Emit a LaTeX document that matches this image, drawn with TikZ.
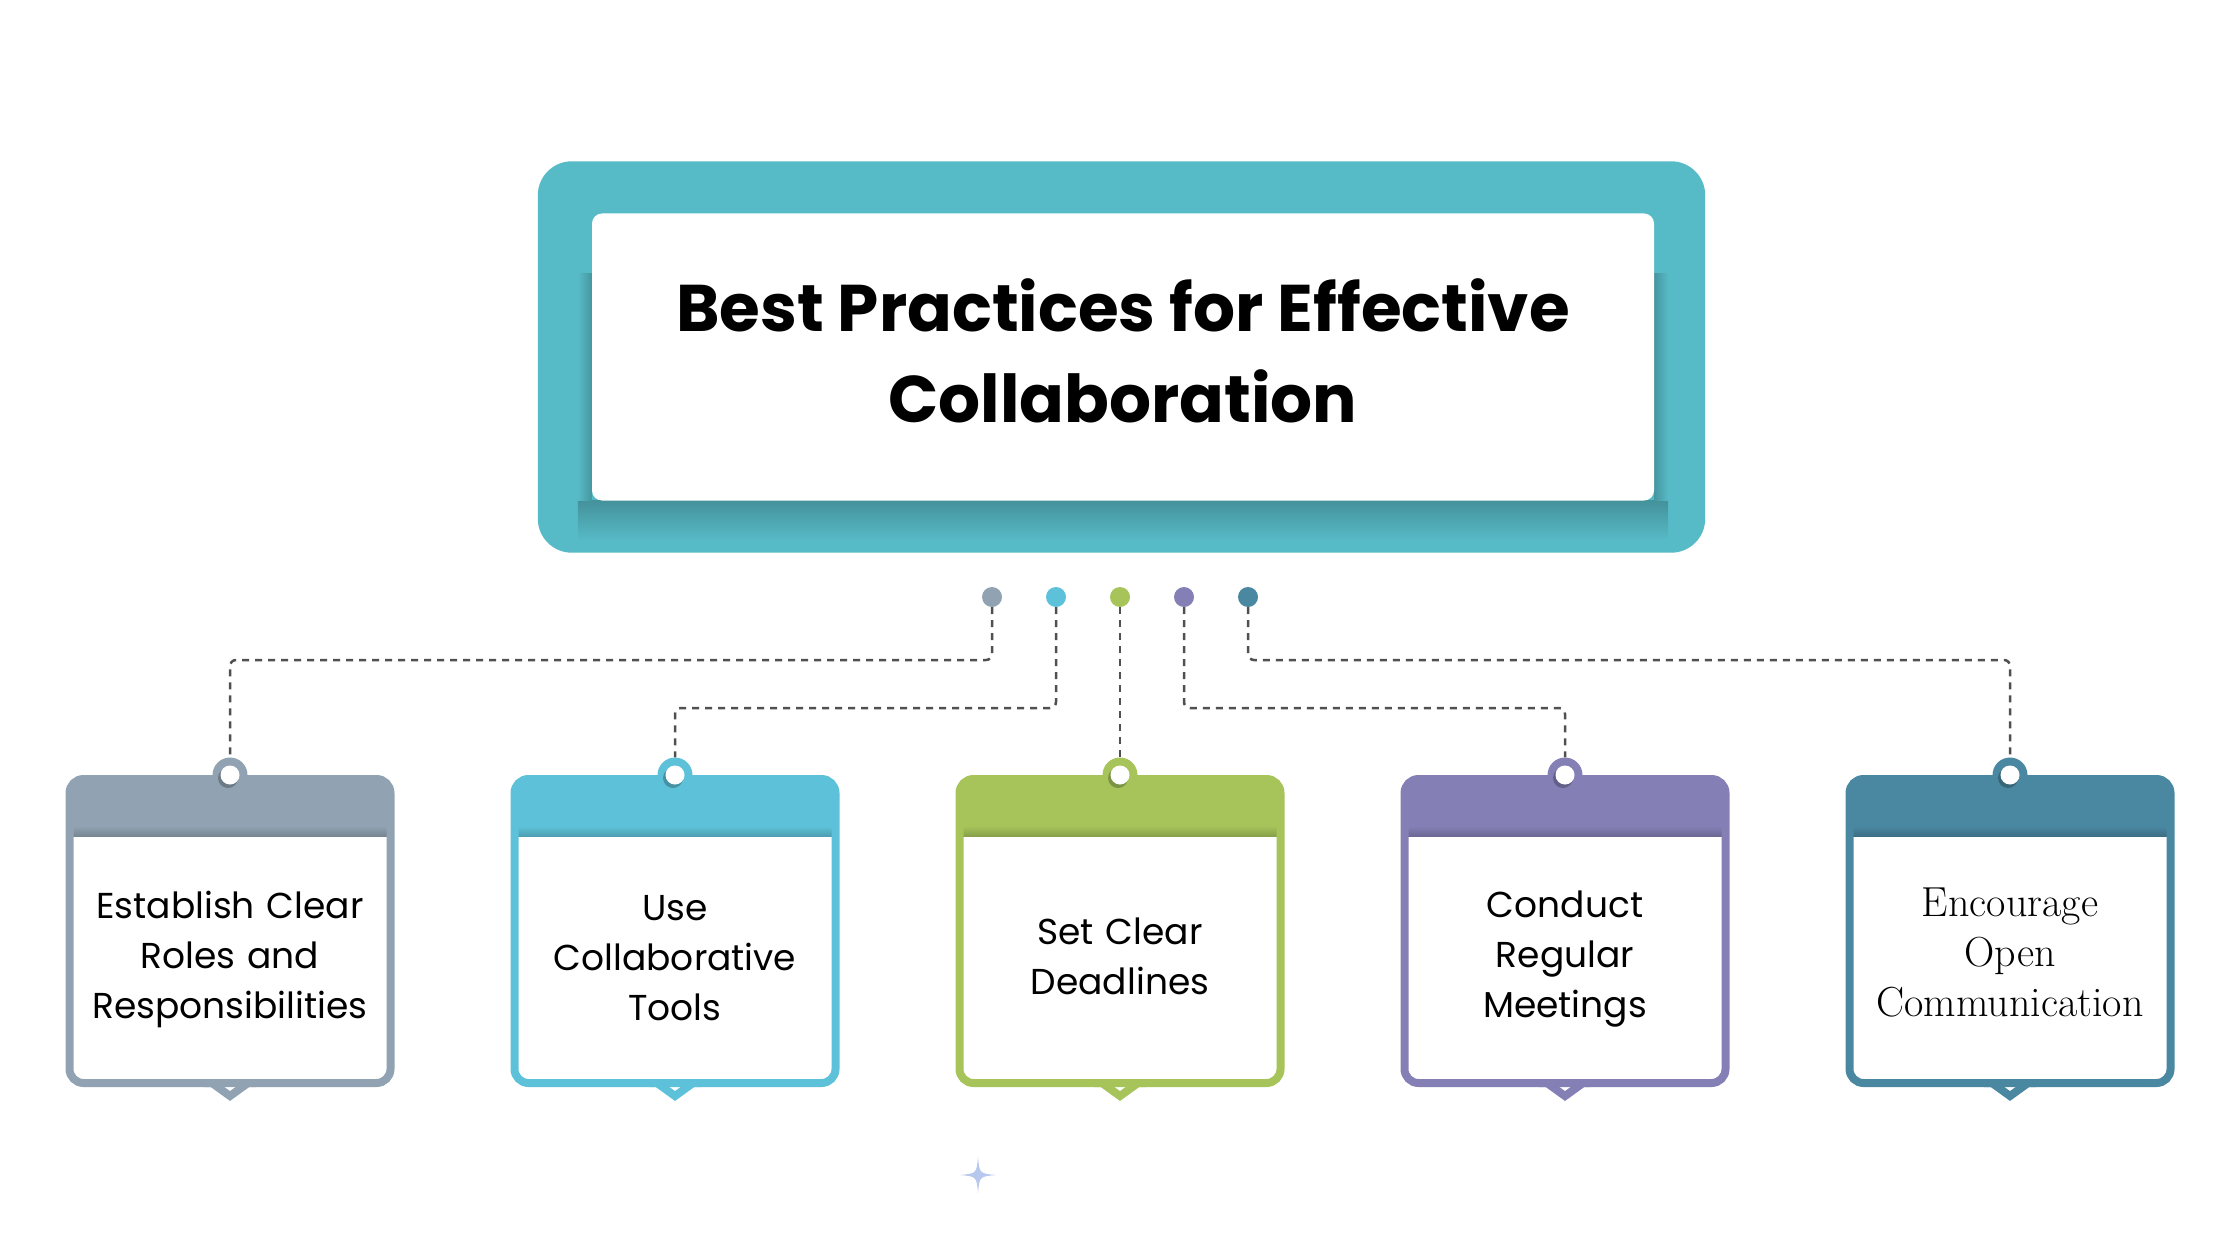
\documentclass[tikz,border=0pt]{standalone}
\usepackage{fontspec}
\newfontfamily\popfont{Poppins}
\usetikzlibrary{positioning,backgrounds}

\definecolor{cframe}{HTML}{57BBC7}
\definecolor{cgray}{HTML}{91A3B3}
\definecolor{ccyan}{HTML}{5DC2D9}
\definecolor{cgreen}{HTML}{A6C45A}
\definecolor{cpurple}{HTML}{8480B6}
\definecolor{cteal}{HTML}{4A88A2}
\definecolor{clink}{HTML}{505050}
\definecolor{cspark}{HTML}{A9BEEA}

\begin{document}
\begin{tikzpicture}[x=1pt, y=-1pt, node distance=445pt,
    card/.style={rectangle, draw=#1, fill=white, line width=8pt, rounded corners=14pt,
      minimum width=321pt, minimum height=304pt, inner sep=0pt,
      path picture={
        \fill[#1, sharp corners] (path picture bounding box.north west) rectangle ([yshift=-57pt]path picture bounding box.north east);
        \shade[sharp corners, top color=#1, bottom color=#1!82!black] ([yshift=-47pt]path picture bounding box.north west) rectangle ([yshift=-57pt]path picture bounding box.north east);},
      append after command={\pgfextra{
        \fill[white, sharp corners] ([xshift=-13pt,yshift=8pt]\tikzlastnode.south) -- ([yshift=-6pt]\tikzlastnode.south) -- ([xshift=13pt,yshift=8pt]\tikzlastnode.south) -- cycle;
        \draw[#1, line width=8pt, sharp corners] ([xshift=-26pt,yshift=4pt]\tikzlastnode.south) -- ([xshift=-18pt,yshift=4pt]\tikzlastnode.south)
          -- ([yshift=-9pt]\tikzlastnode.south) -- ([xshift=18pt,yshift=4pt]\tikzlastnode.south) -- ([xshift=26pt,yshift=4pt]\tikzlastnode.south);}}},
    hook/.style={circle, fill=#1, minimum size=35pt, inner sep=0pt,
      path picture={
        \fill[#1!75!black] ([xshift=-2pt,yshift=-3pt]path picture bounding box.center) circle (10pt);
        \fill[white] (path picture bounding box.center) circle (9.5pt);}}]
  \tikzstyle{headline}=[rectangle, fill=white, rounded corners=10pt, minimum width=1062pt, minimum height=287pt,
    align=center, font=\popfont\bfseries\fontsize{66pt}{91pt}\selectfont]
  \tikzstyle{bead}=[circle, minimum size=20pt, inner sep=0pt]
  \tikzstyle{cardtext}=[align=center, text width=310pt, font=\popfont\fontsize{36pt}{50pt}\selectfont]
  \tikzstyle{link}=[draw=clink, line width=2.5pt, dash pattern=on 7pt off 6pt, rounded corners=6pt]

  \useasboundingbox (0,0) rectangle (2240,1260);

  % title
  \node[headline] (title) at (1123,357) {Best Practices for Effective\\Collaboration\rule[-12pt]{0pt}{12pt}};
  \begin{scope}[on background layer]
    \fill[cframe, rounded corners=34pt] ([xshift=-54pt,yshift=52pt]title.north west) rectangle ([xshift=51pt,yshift=-52pt]title.south east);
    \shade[top color=cframe!78!black, bottom color=cframe] ([xshift=-14pt]title.south west) rectangle ([xshift=14pt,yshift=-40pt]title.south east);
    \shade[left color=cframe, right color=cframe!80!black] ([xshift=-14pt,yshift=-60pt]title.north west) rectangle (title.south west);
    \shade[left color=cframe!80!black, right color=cframe] ([yshift=-60pt]title.north east) rectangle ([xshift=14pt]title.south east);
  \end{scope}

  % beads under the title
  \node[bead, fill=cgray] (b1) at (992,597) {};
  \node[bead, fill=ccyan, node distance=64pt, right of=b1] (b2) {};
  \node[bead, fill=cgreen, node distance=64pt, right of=b2] (b3) {};
  \node[bead, fill=cpurple, node distance=64pt, right of=b3] (b4) {};
  \node[bead, fill=cteal, node distance=64pt, right of=b4] (b5) {};

  % cards
  \node[card=cgray] (roles) at (230,931) {};
  \node[card=ccyan, right of=roles] (tools) {};
  \node[card=cgreen, right of=tools] (deadlines) {};
  \node[card=cpurple, right of=deadlines] (meetings) {};
  \node[card=cteal, right of=meetings] (openness) {};

  \node[cardtext] (rolestxt) at ([yshift=-28pt]roles.center) {Establish Clear\\Roles and\\Responsibilities};
  \node[cardtext] (toolstxt) at ([yshift=-27pt]tools.center) {Use\\Collaborative\\Tools};
  \node[cardtext] (deadlinestxt) at ([yshift=-25pt]deadlines.center) {Set Clear\\Deadlines};
  \node[cardtext] (meetingstxt) at ([yshift=-28pt]meetings.center) {Conduct\\Regular\\Meetings};
  \node[cardtext, font=\fontsize{42pt}{50pt}\selectfont] (opennesstxt) at ([yshift=-22pt]openness.center) {Encourage\\Open\\Communication};

  % hooks on the cards
  \node[hook=cgray] (h1) at (roles.north) {};
  \node[hook=ccyan] (h2) at (tools.north) {};
  \node[hook=cgreen] (h3) at (deadlines.north) {};
  \node[hook=cpurple] (h4) at (meetings.north) {};
  \node[hook=cteal] (h5) at (openness.north) {};

  \draw[link] (b1) -- (b1 |- 0,660) -| (h1);
  \draw[link] (b2) -- (b2 |- 0,708) -| (h2);
  \draw[link] (b3) -- (h3);
  \draw[link] (b4) -- (b4 |- 0,708) -| (h4);
  \draw[link] (b5) -- (b5 |- 0,660) -| (h5);

  % sparkle
  \coordinate (spark) at (978,1175);
  \fill[cspark, opacity=0.85, shift={(spark)}] (0,-18) .. controls (1.5,-1.5) .. (18,0) .. controls (1.5,1.5) .. (0,18)
    .. controls (-1.5,1.5) .. (-18,0) .. controls (-1.5,-1.5) .. (0,-18) -- cycle;
\end{tikzpicture}
\end{document}
